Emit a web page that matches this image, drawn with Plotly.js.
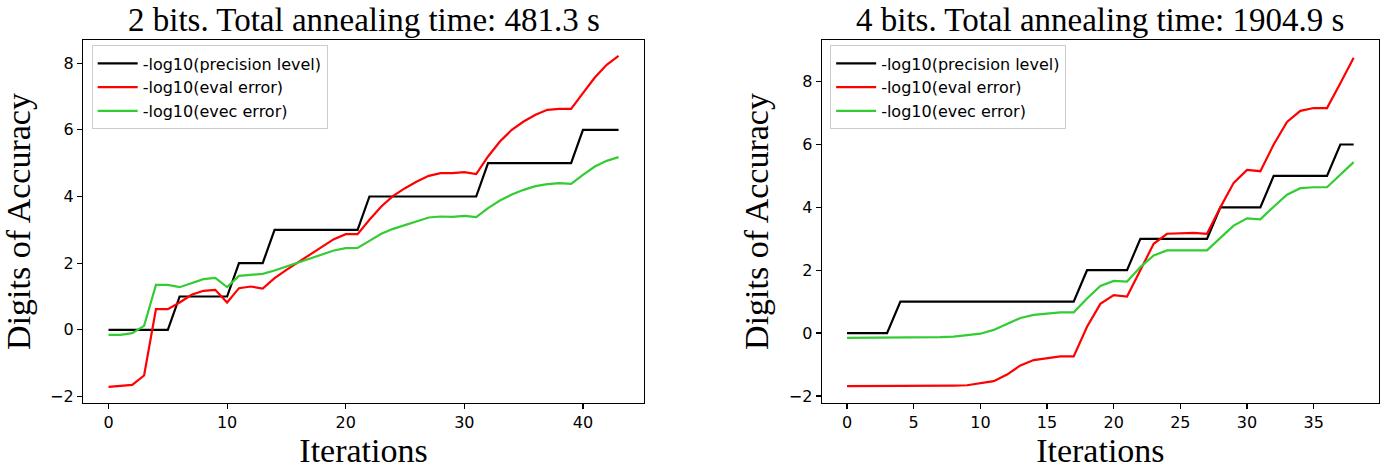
<!DOCTYPE html>
<html>
<head>
<meta charset="utf-8">
<script src="https://cdn.plot.ly/plotly-3.0.1.min.js"></script>
<style>html,body{margin:0;padding:0;background:#fff}#chart{width:1394px;height:469px}</style>
</head>
<body>
<div id="chart"></div>
<script>
// ---- data ----
const iter2 = Array.from({length: 44}, (_, i) => i);
const prec2 = [0,0,0,0,0,0,1,1,1,1,1,2,2,2,3,3,3,3,3,3,3,3,4,4,4,4,4,4,4,4,4,4,5,5,5,5,5,5,5,5,6,6,6,6];
const eval2 = [-1.71,-1.68,-1.65,-1.37,0.62,0.62,0.82,1.05,1.17,1.2,
               0.82,1.25,1.3,1.24,1.55,1.8,2.03,2.25,2.5,2.72,
               2.87,2.87,3.3,3.7,4.02,4.25,4.45,4.62,4.7,4.7,
               4.73,4.67,5.2,5.65,6.0,6.25,6.45,6.6,6.63,6.63,
               7.1,7.57,7.95,8.22];
const evec2 = [-0.15,-0.15,-0.1,0.12,1.35,1.35,1.28,1.4,1.52,1.56,
               1.28,1.62,1.66,1.68,1.78,1.9,2.0,2.13,2.26,2.38,
               2.45,2.46,2.67,2.88,3.03,3.15,3.27,3.37,3.4,3.39,
               3.42,3.38,3.65,3.88,4.06,4.2,4.31,4.37,4.4,4.38,
               4.65,4.9,5.07,5.18];

const iter4 = Array.from({length: 39}, (_, i) => i);
const prec4 = [0,0,0,0,1,1,1,1,1,1,1,1,1,1,1,1,1,1,2,2,2,2,3,3,3,3,3,3,4,4,4,4,5,5,5,5,5,6,6];
const eval4 = [-1.69,-1.69,-1.69,-1.69,-1.69,-1.68,-1.68,-1.68,-1.67,-1.66,
               -1.6,-1.53,-1.32,-1.03,-0.86,-0.79,-0.74,-0.74,0.2,0.93,
               1.21,1.16,2.0,2.84,3.16,3.18,3.19,3.16,4.0,4.78,
               5.19,5.15,6.0,6.72,7.07,7.16,7.16,7.95,8.76];
const evec4 = [-0.15,-0.15,-0.15,-0.15,-0.15,-0.15,-0.14,-0.13,-0.11,-0.07,
               -0.02,0.1,0.3,0.48,0.58,0.63,0.66,0.66,1.1,1.5,
               1.66,1.64,2.1,2.47,2.63,2.63,2.64,2.63,3.03,3.42,
               3.65,3.62,4.02,4.4,4.61,4.64,4.64,5.03,5.44];

const seriesNames = ['-log10(precision level)', '-log10(eval error)', '-log10(evec error)'];
const seriesColors = ['#000000', '#ff0000', '#33cc33'];
const titles = ['2 bits. Total annealing time: 481.3 s', '4 bits. Total annealing time: 1904.9 s'];
const xTicks2 = [0, 10, 20, 30, 40];
const xTicks4 = [0, 5, 10, 15, 20, 25, 30, 35];
const yTicks = [-2, 0, 2, 4, 6, 8];

// ---- traces ----
function mk(x, y, i, xa, ya, leg) {
  return {x: x, y: y, name: seriesNames[i], type: 'scatter', mode: 'lines',
          line: {color: seriesColors[i], width: 2.2}, xaxis: xa, yaxis: ya, legend: leg};
}
const traces = [
  mk(iter2, prec2, 0, 'x', 'y', 'legend'),
  mk(iter2, eval2, 1, 'x', 'y', 'legend'),
  mk(iter2, evec2, 2, 'x', 'y', 'legend'),
  mk(iter4, prec4, 0, 'x2', 'y2', 'legend2'),
  mk(iter4, eval4, 1, 'x2', 'y2', 'legend2'),
  mk(iter4, evec4, 2, 'x2', 'y2', 'legend2')
];

const tickFont = {family: 'DejaVu Sans', size: 16, color: '#000'};
const serif = 'Liberation Serif';
const titleFont = {family: serif, size: 34, color: '#000'};
const plotTitleFont = {family: serif, size: 33, color: '#000'};

function axX(dom, range, ticks, anchor) {
  return {domain: dom, range: range, tickmode: 'array', tickvals: ticks, ticktext: ticks.map(String),
          showgrid: false, zeroline: false, showline: true, mirror: true, linecolor: '#000', linewidth: 1.2,
          ticks: 'outside', ticklen: 5, tickwidth: 1.2, tickcolor: '#000', tickfont: tickFont, anchor: anchor,
          title: {text: 'Iterations', font: titleFont, standoff: 3}};
}
function axY(range, anchor) {
  return {domain: [0, 1], range: range, tickmode: 'array', tickvals: yTicks, ticktext: yTicks.map(v => v < 0 ? '\u2212' + Math.abs(v) : String(v)),
          showgrid: false, zeroline: false, showline: true, mirror: true, linecolor: '#000', linewidth: 1.2,
          ticks: 'outside', ticklen: 5, tickwidth: 1.2, tickcolor: '#000', tickfont: tickFont, anchor: anchor,
          title: {text: 'Digits of Accuracy', font: titleFont, standoff: 9}};
}

const legStyle = {bgcolor: 'rgba(255,255,255,0.8)', bordercolor: '#cccccc', borderwidth: 1,
                  font: {family: 'DejaVu Sans', size: 16, color: '#000'}, xanchor: 'left', yanchor: 'top',
                  itemwidth: 40, tracegroupgap: 0};

const layout = {
  width: 1394, height: 469,
  margin: {l: 83, r: 15, t: 40, b: 66},
  paper_bgcolor: '#fff', plot_bgcolor: '#fff',
  showlegend: true,
  xaxis: axX([0, 0.4329], [-2.15, 45.15], xTicks2, 'y'),
  yaxis: axY([-2.195, 8.695], 'x'),
  xaxis2: axX([0.57, 1.0], [-1.9, 39.9], xTicks4, 'y2'),
  yaxis2: axY([-2.225, 9.325], 'x2'),
  legend: Object.assign({x: 0.0067, y: 0.985}, legStyle),
  legend2: Object.assign({x: 0.5765, y: 0.985}, legStyle),
  annotations: [
    {text: titles[0], xref: 'paper', yref: 'paper', x: 0.21645, y: 1.0, xanchor: 'center', yanchor: 'bottom',
     yshift: 0, showarrow: false, font: plotTitleFont},
    {text: titles[1], xref: 'paper', yref: 'paper', x: 0.785, y: 1.0, xanchor: 'center', yanchor: 'bottom',
     yshift: 0, showarrow: false, font: plotTitleFont}
  ]
};

Plotly.newPlot('chart', traces, layout, {displayModeBar: false, staticPlot: true});
</script>
</body>
</html>
